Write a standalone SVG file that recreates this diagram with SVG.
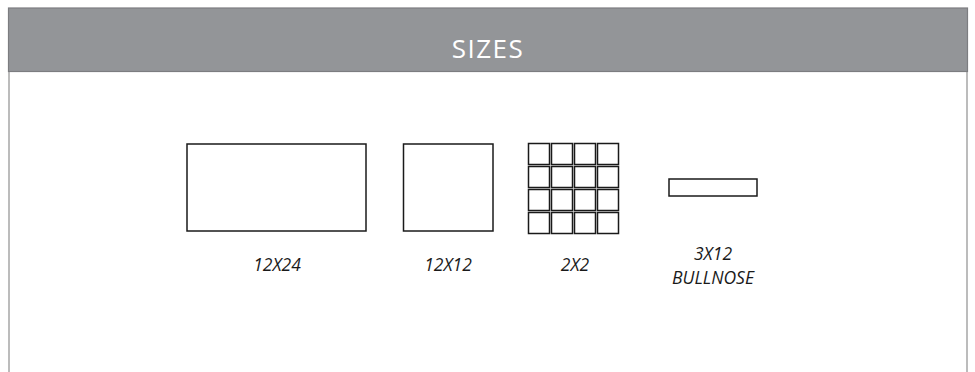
<svg xmlns="http://www.w3.org/2000/svg" width="975" height="372" viewBox="0 0 975 372">
<style>
.tile{fill:#fff;stroke:#1a1a1a;stroke-width:1.5}
.lbl{font-family:"Open Sans","Liberation Sans",sans-serif;font-style:italic;font-size:17.5px;fill:#1a1a1a;text-anchor:middle}
</style>
<rect width="975" height="372" fill="#fff"/>
<g id="frame">
<line x1="9" y1="72" x2="9" y2="372" stroke="#a6a6a6" stroke-width="1.5"/>
<line x1="967" y1="72" x2="967" y2="372" stroke="#a6a6a6" stroke-width="1.5"/>
<rect x="8.5" y="8" width="959" height="63.5" fill="#939598" stroke="#7c7d80" stroke-width="1.2"/>
<text x="488" y="58" font-family="Open Sans, Liberation Sans, sans-serif" font-size="26" letter-spacing="1.5" fill="#fff" text-anchor="middle">SIZES</text>
</g>
<g id="n12x24">
<rect class="tile" x="187" y="144" width="179" height="87"/>
<text class="lbl" x="277" y="271">12X24</text>
</g>
<g id="n12x12">
<rect class="tile" x="403.5" y="144" width="89.5" height="87"/>
<text class="lbl" x="448" y="271">12X12</text>
</g>
<g id="n2x2">
<g class="tile">
<rect x="528.5" y="143.5" width="21" height="21"/><rect x="551.5" y="143.5" width="21" height="21"/><rect x="574.5" y="143.5" width="21" height="21"/><rect x="597.5" y="143.5" width="21" height="21"/>
<rect x="528.5" y="166.5" width="21" height="21"/><rect x="551.5" y="166.5" width="21" height="21"/><rect x="574.5" y="166.5" width="21" height="21"/><rect x="597.5" y="166.5" width="21" height="21"/>
<rect x="528.5" y="189.5" width="21" height="21"/><rect x="551.5" y="189.5" width="21" height="21"/><rect x="574.5" y="189.5" width="21" height="21"/><rect x="597.5" y="189.5" width="21" height="21"/>
<rect x="528.5" y="212.5" width="21" height="21"/><rect x="551.5" y="212.5" width="21" height="21"/><rect x="574.5" y="212.5" width="21" height="21"/><rect x="597.5" y="212.5" width="21" height="21"/>
</g>
<text class="lbl" x="575" y="271">2X2</text>
</g>
<g id="n3x12">
<rect class="tile" x="669" y="179" width="88" height="17"/>
<text class="lbl" x="713" y="260">3X12</text>
<text class="lbl" x="713" y="284">BULLNOSE</text>
</g>
<g id="connectors"/>
</svg>
